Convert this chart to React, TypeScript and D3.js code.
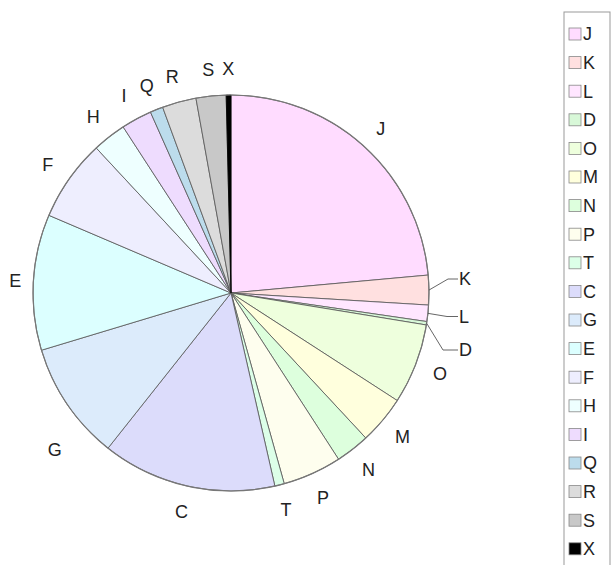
import { useEffect, useRef } from 'react';
import * as d3 from 'd3';

// slices, clockwise from 12 o'clock (values read as degrees of arc)
const categories = ['J', 'K', 'L', 'D', 'O', 'M', 'N', 'P', 'T', 'C', 'G', 'E', 'F', 'H', 'I', 'Q', 'R', 'S', 'X'];
const values = [84.8, 8.7, 4.8, 1.0, 23.6, 14.2, 10.0, 17.3, 2.8, 51.2, 34.8, 39.9, 24.0, 9.9, 9.0, 3.8, 10.0, 8.8, 1.4];
const colors = [
  '#ffdcff', '#ffe0e0', '#ffe6ff', '#d8f8d8', '#eeffdd', '#ffffdd', '#ddffdd', '#fefeee', '#dcffe8', '#dcdcfb',
  '#dcebfb', '#dcffff', '#eeeefe', '#eeffff', '#eedcfe', '#bcdcec', '#dcdcdc', '#c8c8c8', '#000000',
];
// labels drawn with a leader line
const leaderLabels = ['K', 'L', 'D'];

export default function App() {
  const svgRef = useRef<SVGSVGElement>(null);

  useEffect(() => {
    if (!svgRef.current) return;
    const svg = d3.select(svgRef.current);
    svg.selectAll('*').remove();

    const cx = 231;
    const cy = 293;
    const r = 198;
    const font = 'Liberation Sans, Arial, sans-serif';
    const fs = 18;

    const data = categories.map((c, i) => ({ c, v: values[i], col: colors[i] }));
    const pie = d3.pie<{ c: string; v: number; col: string }>().sort(null).value((d) => d.v);
    const arc = d3.arc<d3.PieArcDatum<{ c: string; v: number; col: string }>>().innerRadius(0).outerRadius(r);
    const arcs = pie(data);

    const g = svg.append('g').attr('transform', `translate(${cx},${cy})`);

    g.selectAll('path')
      .data(arcs)
      .join('path')
      .attr('d', arc)
      .attr('fill', (d) => d.data.col)
      .attr('stroke', (d) => (d.data.c === 'X' ? '#000' : '#555'))
      .attr('stroke-width', 0.8);

    // outer rim
    g.append('circle').attr('r', r).attr('fill', 'none').attr('stroke', '#777').attr('stroke-width', 1.2);

    const pt = (a: number, rr: number) => [Math.sin(a) * rr, -Math.cos(a) * rr];
    const labelShift: Record<string, number> = { G: -0.13 };
    const labelRad: Record<string, number> = { G: 236, E: 216, J: 222 };

    arcs.forEach((d) => {
      const mid = (d.startAngle + d.endAngle) / 2;
      if (leaderLabels.includes(d.data.c)) {
        const [x0, y0] = pt(mid, r);
        const idx = leaderLabels.indexOf(d.data.c);
        const ty = [279, 316.5, 350][idx] - cy;
        const bx = [217, 216, 212][idx];
        g.append('polyline')
          .attr('points', `${x0},${y0} ${bx},${ty} ${227},${ty}`)
          .attr('fill', 'none')
          .attr('stroke', '#555')
          .attr('stroke-width', 0.9);
        g.append('text')
          .attr('x', 228)
          .attr('y', ty)
          .attr('dy', '0.35em')
          .attr('font-family', font)
          .attr('font-size', fs)
          .attr('fill', '#222')
          .text(d.data.c);
        return;
      }
      const a = mid + (labelShift[d.data.c] ?? 0);
      const rr = labelRad[d.data.c] ?? 224;
      const [x, y] = pt(a, rr);
      g.append('text')
        .attr('x', x)
        .attr('y', y)
        .attr('dy', '0.35em')
        .attr('text-anchor', 'middle')
        .attr('font-family', font)
        .attr('font-size', fs)
        .attr('fill', '#222')
        .text(d.data.c);
    });

    // legend
    const lx = 564;
    const ly = 12;
    const step = 28.6;
    svg.append('rect')
      .attr('x', lx)
      .attr('y', ly)
      .attr('width', 46)
      .attr('height', 570)
      .attr('fill', 'none')
      .attr('stroke', '#999')
      .attr('stroke-width', 1);
    const item = svg
      .append('g')
      .selectAll('g')
      .data(data)
      .join('g')
      .attr('transform', (_, i) => `translate(${lx + 5},${ly + 22 + i * step})`);
    item.append('rect')
      .attr('x', 0)
      .attr('y', -6)
      .attr('width', 12)
      .attr('height', 12)
      .attr('fill', (d) => d.col)
      .attr('stroke', '#888')
      .attr('stroke-width', 0.8);
    item.append('text')
      .attr('x', 14)
      .attr('y', 0)
      .attr('dy', '0.36em')
      .attr('font-family', font)
      .attr('font-size', fs)
      .attr('fill', '#222')
      .text((d) => d.c);
  }, []);

  return (
    <div style={{ position: 'absolute', left: 0, top: 0 }}>
      <svg ref={svgRef} width={611} height={565} style={{ display: 'block', background: '#fff' }} />
    </div>
  );
}
